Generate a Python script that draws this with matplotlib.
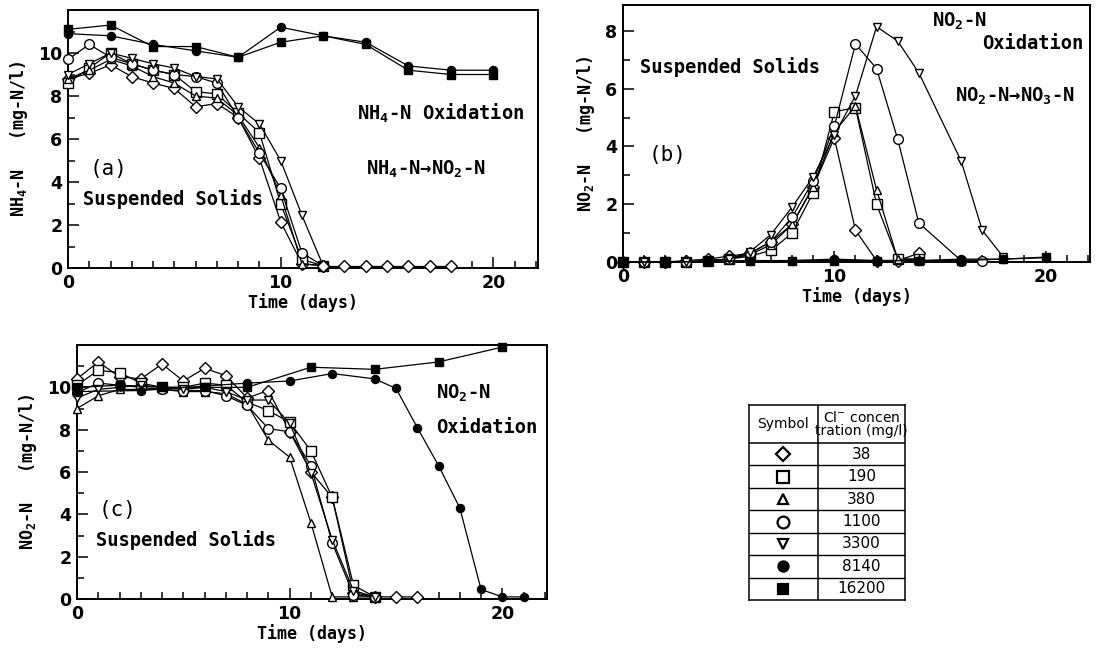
import numpy as np
import matplotlib
matplotlib.use('Agg')
import matplotlib.pyplot as plt
from matplotlib.ticker import MultipleLocator

plt.rcParams['mathtext.default'] = 'regular'
MONO = 'DejaVu Sans Mono'

# Cl- concentrations (mg/l) and their symbols
conc = ['38', '190', '380', '1100', '3300', '8140', '16200']
marks = ['D', 's', '^', 'o', 'v', 'o', 's']
filled = [False, False, False, False, False, True, True]
msize = [5.8, 7.0, 5.8, 7.0, 5.3, 5.8, 5.8]

# ---- (a) NH4-N ----
a_days = [0, 1, 2, 3, 4, 5, 6, 7, 8, 9, 10, 11, 12]
a_38 = [8.8, 9.05, 9.45, 8.9, 8.6, 8.35, 7.5, 7.65, 7.0, 5.1, 2.15, 0.2, 0.1]
a_190 = [8.6, 9.3, 10.0, 9.5, 9.2, 9.0, 8.2, 8.1, 7.2, 6.3, 3.0, 0.4, 0.1]
a_380 = [8.8, 9.2, 9.7, 9.4, 8.9, 8.6, 8.0, 7.9, 7.1, 5.6, 3.4, 0.2, 0.1]
a_1100 = [9.7, 10.4, 9.8, 9.5, 9.2, 9.0, 8.9, 8.6, 7.0, 5.35, 3.7, 0.7, 0.1]
a_3300 = [9.0, 9.5, 10.0, 9.75, 9.5, 9.3, 8.9, 8.8, 7.5, 6.7, 5.0, 2.45, 0.1]
a_tail_days = [12, 13, 14, 15, 16, 17, 18]
a_tail = [0.1, 0.1, 0.1, 0.1, 0.1, 0.1, 0.1]
a_days_f = [0, 2, 4, 6, 8, 10, 12, 14, 16, 18, 20]
a_8140 = [10.9, 10.8, 10.4, 10.1, 9.8, 11.2, 10.8, 10.5, 9.4, 9.2, 9.2]
a_16200 = [11.1, 11.3, 10.3, 10.3, 9.8, 10.5, 10.8, 10.4, 9.2, 9.0, 9.0]

# ---- (b) NO2-N build-up ----
b_days = [0, 1, 2, 3, 4, 5, 6, 7, 8, 9, 10, 11, 12, 13, 14]
b_38 = [0, 0, 0, 0.05, 0.1, 0.2, 0.3, 0.7, 1.3, 2.6, 4.3, 1.1, 0.05, 0.05, 0.3]
b_190 = [0, 0, 0, 0, 0.05, 0.1, 0.2, 0.4, 1.0, 2.4, 5.2, 5.35, 2.0, 0.1, 0.1]
b_380 = [0, 0, 0, 0, 0.05, 0.1, 0.25, 0.6, 1.3, 2.6, 4.5, 5.4, 2.5, 0.1, 0.1]
b_days_1100 = [0, 1, 2, 3, 4, 5, 6, 7, 8, 9, 10, 11, 12, 13, 14, 16, 17]
b_1100 = [0, 0, 0, 0, 0.05, 0.1, 0.3, 0.7, 1.55, 2.8, 4.7, 7.55, 6.7, 4.25, 1.35, 0.05, 0.05]
b_days_3300 = [0, 1, 2, 3, 4, 5, 6, 7, 8, 9, 10, 11, 12, 13, 14, 16, 17, 18]
b_3300 = [0, 0, 0, 0, 0.05, 0.1, 0.35, 0.95, 1.9, 2.95, 4.4, 5.75, 8.15, 7.65, 6.55, 3.5, 1.1, 0.17]
b_days_f = [0, 2, 4, 6, 8, 10, 12, 14, 16, 18, 20]
b_8140 = [0, 0, 0.02, 0.05, 0.05, 0.1, 0.05, 0.05, 0.1, 0.1, 0.15]
b_16200 = [0, 0, 0.02, 0.03, 0.05, 0.05, 0.05, 0.05, 0.05, 0.1, 0.17]

# ---- (c) NO2-N oxidation ----
c_days_38 = [0, 1, 2, 3, 4, 5, 6, 7, 8, 9, 10, 11, 12, 13, 14, 15, 16]
c_38 = [10.4, 11.2, 10.5, 10.4, 11.1, 10.3, 10.9, 10.55, 9.5, 9.85, 7.9, 6.0, 4.8, 0.3, 0.1, 0.1, 0.1]
c_days = [0, 1, 2, 3, 4, 5, 6, 7, 8, 9, 10, 11, 12, 13, 14]
c_190 = [10.1, 10.8, 10.7, 10.2, 10.0, 10.0, 10.2, 10.1, 9.3, 8.9, 8.35, 7.0, 4.8, 0.65, 0.1]
c_380 = [9.0, 9.6, 9.9, 9.9, 9.9, 9.8, 9.8, 9.7, 9.2, 7.5, 6.7, 3.6, 0.1, 0.1, 0.1]
c_1100 = [9.75, 10.2, 10.1, 10.0, 9.9, 9.85, 9.85, 9.6, 9.15, 8.05, 7.9, 6.3, 2.65, 0.2, 0.1]
c_3300 = [9.5, 9.9, 10.0, 10.1, 10.0, 9.9, 10.0, 9.8, 9.4, 9.4, 8.3, 5.95, 2.8, 0.4, 0.1]
c_days_8140 = [0, 3, 8, 10, 12, 14, 15, 16, 17, 18, 19, 20, 21]
c_8140 = [9.8, 9.85, 10.2, 10.3, 10.65, 10.4, 9.95, 8.1, 6.3, 4.3, 0.45, 0.1, 0.1]
c_days_16200 = [0, 2, 4, 6, 8, 11, 14, 17, 20]
c_16200 = [10.0, 10.1, 10.0, 10.0, 10.0, 10.95, 10.85, 11.2, 11.9]


def draw(ax, x, y, k):
    face = 'black' if filled[k] else 'white'
    ax.plot(x, y, color='black', lw=0.9, marker=marks[k], ms=msize[k],
            mfc=face, mec='black', mew=1.0, clip_on=False, zorder=3)


def style(ax, ymax, ytop, ylab):
    ax.set_xlim(0, 22.1)
    ax.set_ylim(0, ytop)
    ax.xaxis.set_major_locator(MultipleLocator(10))
    ax.xaxis.set_minor_locator(MultipleLocator(1))
    ax.set_yticks(np.arange(0, ymax + 1, 2))
    ax.yaxis.set_minor_locator(MultipleLocator(1))
    ax.tick_params(which='both', direction='in', width=1.1, top=False, right=False)
    ax.tick_params(which='major', length=8, labelsize=12.5, pad=4)
    ax.tick_params(which='minor', length=5)
    for lab in ax.get_xticklabels() + ax.get_yticklabels():
        lab.set_fontweight('bold')
    for s in ax.spines.values():
        s.set_linewidth(1.4)
    ax.set_xlabel('Time (days)', family=MONO, fontweight='bold', fontsize=12, labelpad=1)
    ax.set_ylabel(ylab, family=MONO, fontweight='bold', fontsize=12, labelpad=6)


fig = plt.figure(figsize=(11.04, 6.55), dpi=100)

# (a)
ax1 = fig.add_axes([68 / 1104, 1 - 268 / 655, 470 / 1104, 258 / 655])
for k, ser in enumerate([a_38, a_190, a_380, a_1100, a_3300]):
    draw(ax1, a_days, ser, k)
draw(ax1, a_tail_days, a_tail, 0)
draw(ax1, a_days_f, a_8140, 5)
draw(ax1, a_days_f, a_16200, 6)
style(ax1, 10, 12, 'NH$_4$-N   (mg-N/l)')
tk = dict(family=MONO, fontweight='bold', fontsize=13.5)
ax1.text(1.0, 4.6, '(a)', family=MONO, fontsize=15, va='center')
ax1.text(0.7, 3.2, 'Suspended Solids', va='center', **tk)
ax1.text(13.6, 7.2, 'NH$_4$-N Oxidation', va='center', **tk)
ax1.text(14.0, 4.6, 'NH$_4$-N→NO$_2$-N', va='center', **tk)

# (b)
ax2 = fig.add_axes([623 / 1104, 1 - 262 / 655, 467 / 1104, 257 / 655])
draw(ax2, b_days, b_38, 0)
draw(ax2, b_days, b_190, 1)
draw(ax2, b_days, b_380, 2)
draw(ax2, b_days_1100, b_1100, 3)
draw(ax2, b_days_3300, b_3300, 4)
draw(ax2, b_days_f, b_8140, 5)
draw(ax2, b_days_f, b_16200, 6)
style(ax2, 8, 8.9, 'NO$_2$-N   (mg-N/l)')
ax2.text(1.2, 3.7, '(b)', family=MONO, fontsize=15, va='center')
ax2.text(0.8, 6.75, 'Suspended Solids', va='center', **tk)
ax2.text(14.6, 8.35, 'NO$_2$-N', va='center', **tk)
ax2.text(17.0, 7.55, 'Oxidation', va='center', **tk)
ax2.text(15.7, 5.75, 'NO$_2$-N→NO$_3$-N', va='center', **tk)

# (c)
ax3 = fig.add_axes([77 / 1104, 1 - 599 / 655, 470 / 1104, 254 / 655])
draw(ax3, c_days_38, c_38, 0)
draw(ax3, c_days, c_190, 1)
draw(ax3, c_days, c_380, 2)
draw(ax3, c_days, c_1100, 3)
draw(ax3, c_days, c_3300, 4)
draw(ax3, c_days_8140, c_8140, 5)
draw(ax3, c_days_16200, c_16200, 6)
style(ax3, 10, 12, 'NO$_2$-N   (mg-N/l)')
ax3.text(1.0, 4.2, '(c)', family=MONO, fontsize=15, va='center')
ax3.text(0.9, 2.8, 'Suspended Solids', va='center', **tk)
ax3.text(16.9, 9.7, 'NO$_2$-N', va='center', **tk)
ax3.text(16.9, 8.1, 'Oxidation', va='center', **tk)

# legend table
axt = fig.add_axes([749 / 1104, 1 - 600 / 655, 156 / 1104, 195 / 655])
axt.set_xlim(0, 1)
axt.set_ylim(0, 195)
axt.set_xticks([])
axt.set_yticks([])
for s in axt.spines.values():
    s.set_linewidth(1.1)
row_h = (195 - 38) / len(conc)
axt.axvline(0.442, color='black', lw=1.1)
axt.axhline(195 - 38, color='black', lw=1.1)
for i in range(1, len(conc)):
    axt.axhline(195 - 38 - i * row_h, color='black', lw=1.0)
axt.text(0.221, 195 - 19, 'Symbol', ha='center', va='center', fontsize=10)
axt.text(0.72, 195 - 19, 'Cl$^{-}$ concen\ntration (mg/l)', ha='center', va='center',
         fontsize=10, linespacing=0.95)
for k, c in enumerate(conc):
    yc = 195 - 38 - (k + 0.5) * row_h
    axt.plot([0.221], [yc], marker=marks[k], ms=msize[k] + 1.5, mfc='black' if filled[k] else 'white',
             mec='black', mew=1.6, ls='none')
    axt.text(0.72, yc, c, ha='center', va='center', fontsize=11)

fig.savefig('out.png', dpi=100)
